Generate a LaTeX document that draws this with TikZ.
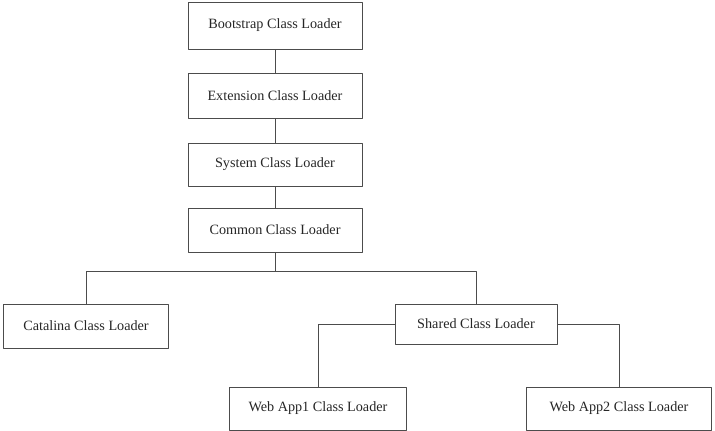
\documentclass[tikz,border=0pt]{standalone}
\usepackage{fontspec}
\setmainfont{Liberation Serif}
\begin{document}
\begin{tikzpicture}[x=1pt, y=-1pt, font=\fontsize{14.2}{16}\selectfont, line join=round, line cap=round]
	\tikzset{hop/.style 2 args={draw=black!70, line width=.8pt, text=black!85, inner sep=0pt, minimum width=#1, minimum height=#2}}
	\useasboundingbox (0,0) rectangle (715,431);
	\node[hop={174pt}{47pt}] (boot) at (275,25.5) {Bootstrap Class Loader};
	\node[hop={174pt}{45pt}] (ext) at (275,95.5) {Extension Class Loader};
	\node[hop={174pt}{43pt}] (sys) at (275,164.5) {System Class Loader};
	\node[hop={174pt}{44pt}] (com) at (275,230) {Common Class Loader};
	\node[hop={165pt}{44pt}] (cat) at (86,326) {Catalina Class Loader};
	\node[hop={162pt}{40pt}] (sha) at (476,324) {Shared Class Loader};
	\node[hop={177pt}{43pt}] (app1) at (318,408.5) {Web App1 Class Loader};
	\node[hop={185pt}{43pt}] (app2) at (619,408.5) {Web App2 Class Loader};
	\coordinate (split) at (275,271.5);
	\begin{scope}[draw=black!70, line width=.8pt]
		\draw (boot) -- (ext) (ext) -- (sys) (sys) -- (com);
		\draw (com) -- (split) -| (cat);
		\draw (split) -| (sha);
		\draw (sha.west) -| (app1);
		\draw (sha.east) -| (app2);
	\end{scope}
\end{tikzpicture}
\end{document}
